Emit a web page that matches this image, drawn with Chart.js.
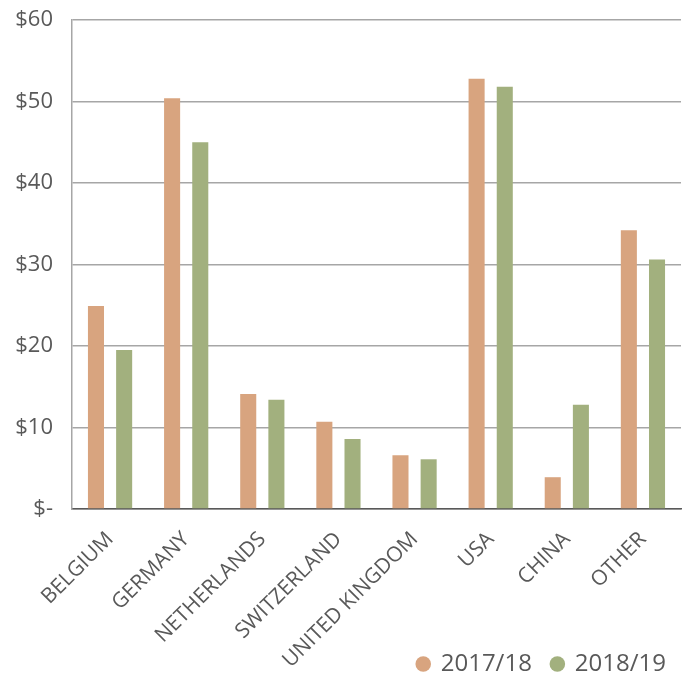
<!DOCTYPE html>
<html>
<head>
<meta charset="utf-8">
<script src="https://cdn.jsdelivr.net/npm/chart.js@4.4.1/dist/chart.umd.min.js"></script>
<style>
  html, body { margin: 0; padding: 0; background: #fff; }
  #wrap { width: 690px; height: 695px; }
</style>
</head>
<body>
<div id="wrap"><canvas id="chart"></canvas></div>
<script>
const countries = ['BELGIUM','GERMANY','NETHERLANDS','SWITZERLAND','UNITED KINGDOM','USA','CHINA','OTHER'];
const fy1718 = [24.9, 50.4, 14.1, 10.7, 6.6, 52.8, 3.9, 34.2];
const fy1819 = [19.5, 45.0, 13.4, 8.6, 6.1, 51.8, 12.8, 30.6];

const textColor = '#595959';
const fontFamily = "'Open Sans', 'Liberation Sans', sans-serif";

const chart = document.querySelector('#chart').getContext('2d');

new Chart(chart, {
    type: 'bar',
    data: {
        labels: countries,
        datasets: [
            {
                label: '2017/18',
                data: fy1718,
                backgroundColor: '#D8A47F',
                categoryPercentage: 0.74,
                barPercentage: 0.57
            },
            {
                label: '2018/19',
                data: fy1819,
                backgroundColor: '#A2B07E',
                categoryPercentage: 0.74,
                barPercentage: 0.57
            }
        ]
    },
    options: {
        responsive: true,
        maintainAspectRatio: false,
        animation: false,
        layout: { padding: { top: 20, left: 0, right: 4, bottom: 9 } },
        plugins: {
            tooltip: { enabled: false },
            legend: {
                position: 'bottom',
                align: 'end',
                labels: {
                    usePointStyle: true,
                    pointStyle: 'circle',
                    boxWidth: 11,
                    boxHeight: 11,
                    padding: 20,
                    color: textColor,
                    font: { family: fontFamily, size: 24 }
                }
            }
        },
        scales: {
            x: {
                grid: { display: false },
                border: { color: '#595959', width: 1.5 },
                ticks: {
                    minRotation: 45,
                    maxRotation: 45,
                    autoSkip: false,
                    color: textColor,
                    padding: 10,
                    font: { family: fontFamily, size: 21 }
                },
                afterFit(scale) {
                    scale.height = 123;
                    scale.paddingLeft = 0;
                    scale.paddingRight = 9;
                    // let the long rotated labels run past the axis box like the original
                    scale._computeLabelArea = () => undefined;
                }
            },
            y: {
                min: 0,
                max: 60,
                grid: { color: '#a6a6a6', lineWidth: 1.5, drawTicks: false },
                border: { color: '#a6a6a6', width: 1.5 },
                ticks: {
                    stepSize: 10,
                    padding: 19,
                    color: textColor,
                    font: { family: fontFamily, size: 22 },
                    callback: v => v === 0 ? '$-' : '$' + v
                },
                afterFit(scale) {
                    scale.width = 72;
                    scale.paddingTop = 0;
                    scale.paddingBottom = 0;
                }
            }
        }
    }
});
</script>
</body>
</html>
